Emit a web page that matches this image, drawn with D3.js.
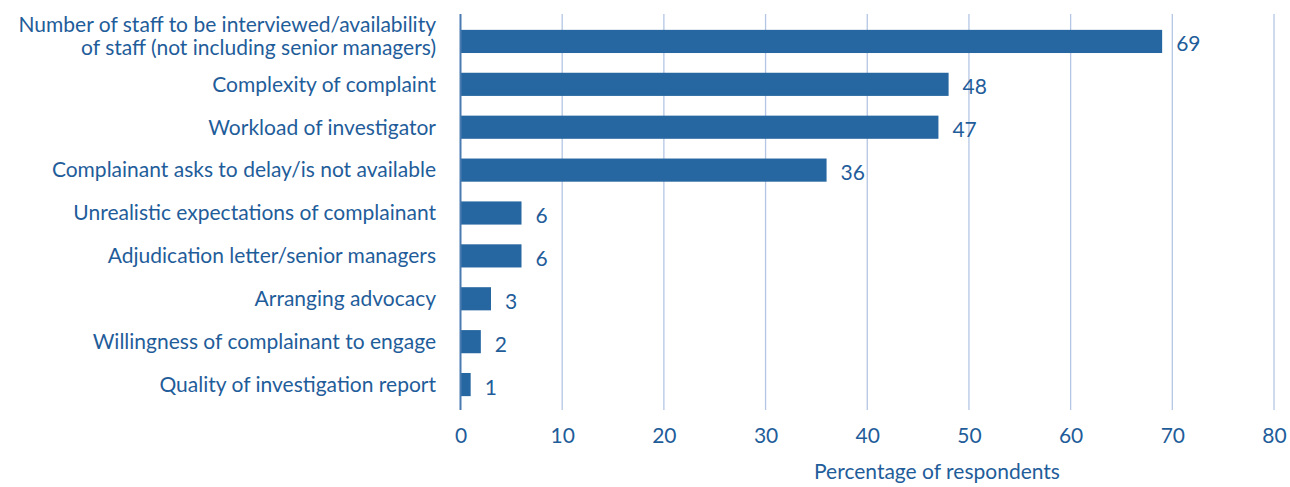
<!DOCTYPE html>
<html>
<head>
<meta charset="utf-8">
<script src="https://cdn.jsdelivr.net/npm/d3@7"></script>
<style>
  html, body { margin: 0; padding: 0; background: #fff; }
  svg { display: block; }
  text { font-family: "Lato", "Open Sans", sans-serif; fill: #1f5d9a; }
</style>
</head>
<body>
<svg id="chart" width="1290" height="487"></svg>
<script>
// Reasons for delay in complaint investigations
const categories = [
  ["Number of staff to be interviewed/availability", "of staff (not including senior managers)"],
  ["Complexity of complaint"],
  ["Workload of investigator"],
  ["Complainant asks to delay/is not available"],
  ["Unrealistic expectations of complainant"],
  ["Adjudication letter/senior managers"],
  ["Arranging advocacy"],
  ["Willingness of complainant to engage"],
  ["Quality of investigation report"]
];
const values = [69, 48, 47, 36, 6, 6, 3, 2, 1];
const xTicks = [0, 10, 20, 30, 40, 50, 60, 70, 80];
const xTitle = "Percentage of respondents";

const svg = d3.select("#chart");
const plotLeft = 460.5, plotRight = 1274, plotTop = 14, plotBottom = 410;
const fontSize = 21;
const lineGap = 23;

const x = d3.scaleLinear().domain([0, 80]).range([plotLeft, plotRight]);
const y = d3.scaleBand()
  .domain(d3.range(values.length))
  .range([20, 406])
  .paddingInner(0.46)
  .paddingOuter(0.23);

// vertical gridlines
svg.append("g")
  .selectAll("line")
  .data(xTicks.filter(t => t !== 0))
  .join("line")
  .attr("x1", d => x(d)).attr("x2", d => x(d))
  .attr("y1", plotTop).attr("y2", plotBottom)
  .attr("stroke", "#b4c6e4")
  .attr("stroke-width", 1.3);

// bars
svg.append("g")
  .selectAll("rect")
  .data(values)
  .join("rect")
  .attr("x", x(0))
  .attr("y", (d, i) => y(i))
  .attr("width", d => x(d) - x(0))
  .attr("height", y.bandwidth())
  .attr("fill", "#2767a1");

// zero baseline
svg.append("line")
  .attr("x1", x(0)).attr("x2", x(0))
  .attr("y1", plotTop).attr("y2", plotBottom)
  .attr("stroke", "#4a7bb0")
  .attr("stroke-width", 2);

// value labels
svg.append("g")
  .selectAll("text")
  .data(values)
  .join("text")
  .attr("x", d => x(d) + 14)
  .attr("y", (d, i) => y(i) + y.bandwidth() / 2 + 10)
  .attr("font-size", fontSize)
  .text(d => d);

// category labels (multi-line labels sit slightly above the bar centre)
const cat = svg.append("g")
  .selectAll("text")
  .data(categories)
  .join("text")
  .attr("text-anchor", "end")
  .attr("font-size", fontSize)
  .attr("x", 436)
  .attr("y", (d, i) => y(i) + y.bandwidth() / 2 + 7.3 - (d.length > 1 ? 16.5 : 0));
cat.selectAll("tspan")
  .data(d => d)
  .join("tspan")
  .attr("x", 436)
  .attr("dy", (d, i) => i === 0 ? 0 : lineGap)
  .text(d => d);

// x axis tick labels
const axis = d3.axisBottom(x).tickValues(xTicks).tickSize(0).tickPadding(0);
const ax = svg.append("g").attr("transform", `translate(0, ${plotBottom})`).call(axis);
ax.select(".domain").remove();
ax.selectAll("text")
  .attr("y", 33)
  .attr("dy", 0)
  .attr("font-size", fontSize)
  .style("font-family", '"Lato", "Open Sans", sans-serif')
  .attr("fill", "#1f5d9a");

// axis title
svg.append("text")
  .attr("x", 937)
  .attr("y", 479)
  .attr("text-anchor", "middle")
  .attr("font-size", fontSize)
  .text(xTitle);
</script>
</body>
</html>
